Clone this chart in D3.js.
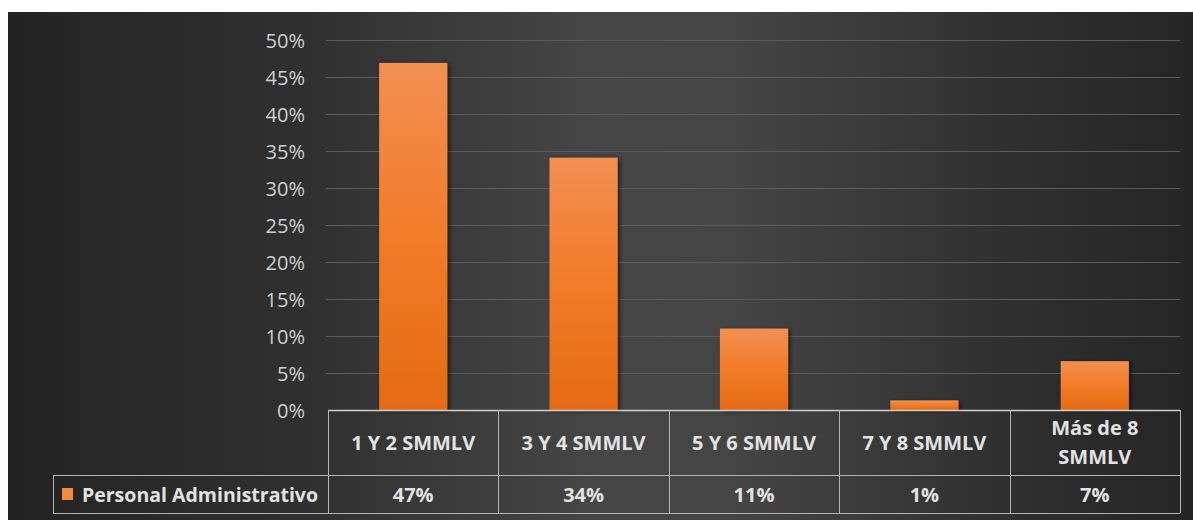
<!DOCTYPE html>
<html>
<head>
<meta charset="utf-8">
<script src="https://cdn.jsdelivr.net/npm/d3@7"></script>
<style>
  html, body { margin: 0; padding: 0; background: #ffffff; }
  svg { display: block; }
  text { font-family: "Open Sans", "Noto Sans", sans-serif; }
</style>
</head>
<body>
<svg id="chart" width="1193" height="520"></svg>
<script>
// ---- data ----
const categories = ["1 Y 2 SMMLV", "3 Y 4 SMMLV", "5 Y 6 SMMLV", "7 Y 8 SMMLV", "Más de 8 SMMLV"];
const categoryLines = [["1 Y 2 SMMLV"], ["3 Y 4 SMMLV"], ["5 Y 6 SMMLV"], ["7 Y 8 SMMLV"], ["Más de 8", "SMMLV"]];
const seriesName = "Personal Administrativo";
const values = [0.469, 0.341, 0.110, 0.013, 0.066];
const yTicks = [0, 0.05, 0.10, 0.15, 0.20, 0.25, 0.30, 0.35, 0.40, 0.45, 0.50];

// ---- layout ----
const W = 1193, H = 520;
const plotLeft = 328, plotRight = 1180, plotTop = 40, plotBottom = 410;
const row1Bottom = 475, row2Bottom = 513, legendLeft = 53;

const svg = d3.select("#chart");
const defs = svg.append("defs");

const bg = defs.append("linearGradient").attr("id", "bg").attr("x1", "0").attr("x2", "1").attr("y1", "0").attr("y2", "0");
bg.append("stop").attr("offset", "0%").attr("stop-color", "#232323");
bg.append("stop").attr("offset", "25%").attr("stop-color", "#303030");
bg.append("stop").attr("offset", "50%").attr("stop-color", "#464646");
bg.append("stop").attr("offset", "62%").attr("stop-color", "#444444");
bg.append("stop").attr("offset", "85%").attr("stop-color", "#2f2f2f");
bg.append("stop").attr("offset", "100%").attr("stop-color", "#252525");

const bar = defs.append("linearGradient").attr("id", "bar").attr("x1", "0").attr("x2", "0").attr("y1", "0").attr("y2", "1");
bar.append("stop").attr("offset", "0%").attr("stop-color", "#F28F52");
bar.append("stop").attr("offset", "45%").attr("stop-color", "#F27D2C");
bar.append("stop").attr("offset", "100%").attr("stop-color", "#E56B12");

const sh = defs.append("filter").attr("id", "shadow").attr("x", "-20%").attr("y", "-20%").attr("width", "150%").attr("height", "150%");
sh.append("feDropShadow").attr("dx", 2).attr("dy", 1).attr("stdDeviation", 2).attr("flood-color", "#000").attr("flood-opacity", 0.6);

svg.append("rect").attr("x", 8).attr("y", 12).attr("width", W - 8).attr("height", H - 12).attr("fill", "url(#bg)");

// ---- scales ----
const x = d3.scaleBand().domain(categories).range([plotLeft, plotRight]).paddingInner(0.6).paddingOuter(0.3);
const xCol = d3.scaleBand().domain(categories).range([plotLeft, plotRight]);
const y = d3.scaleLinear().domain([0, 0.5]).range([plotBottom, plotTop]);

// axis labels
const yAxis = d3.axisLeft(y).tickValues(yTicks).tickFormat(d3.format(".0%")).tickSize(0).tickPadding(0);
const gAxis = svg.append("g").attr("transform", `translate(${plotLeft - 23},0)`).call(yAxis);
gAxis.select(".domain").remove();
gAxis.selectAll("text").attr("fill", "#cfcfcf").attr("font-size", 20).attr("dy", "0.36em")
  .style("font-family", '"Open Sans", sans-serif');

// gridlines
svg.append("g").selectAll("line").data(yTicks.filter(d => d > 0)).join("line")
  .attr("x1", plotLeft - 2).attr("x2", plotRight).attr("y1", d => Math.round(y(d)) + 0.5).attr("y2", d => Math.round(y(d)) + 0.5)
  .attr("stroke", "#5c5c5c").attr("stroke-width", 1);

// bars
svg.append("g").selectAll("rect").data(values).join("rect")
  .attr("x", (d, i) => x(categories[i]))
  .attr("width", x.bandwidth())
  .attr("y", d => y(d))
  .attr("height", d => plotBottom - y(d))
  .attr("fill", "url(#bar)")
  .attr("filter", "url(#shadow)");

// ---- data table ----
const lineColor = "#b4b4b4";
const t = svg.append("g").attr("stroke", lineColor).attr("stroke-width", 1).attr("fill", "none");
t.append("line").attr("x1", plotLeft).attr("x2", plotRight).attr("y1", plotBottom + 0.5).attr("y2", plotBottom + 0.5).attr("stroke", "#d0d0d0").attr("stroke-width", 1.5);
t.append("line").attr("x1", legendLeft).attr("x2", plotRight).attr("y1", row1Bottom + 0.5).attr("y2", row1Bottom + 0.5);
t.append("line").attr("x1", legendLeft).attr("x2", plotRight).attr("y1", row2Bottom + 0.5).attr("y2", row2Bottom + 0.5);
t.append("line").attr("x1", legendLeft + 0.5).attr("x2", legendLeft + 0.5).attr("y1", row1Bottom).attr("y2", row2Bottom);
const colEdges = categories.map(c => xCol(c)).concat([plotRight]);
t.selectAll("line.v").data(colEdges).join("line").attr("class", "v")
  .attr("x1", d => Math.round(d) + 0.5).attr("x2", d => Math.round(d) + 0.5)
  .attr("y1", plotBottom).attr("y2", row2Bottom);

// category headers
const hdr = svg.append("g").attr("fill", "#e2e2e2").attr("font-size", 20).attr("font-weight", "bold").attr("text-anchor", "middle");
categories.forEach((c, i) => {
  const lines = categoryLines[i];
  const cx = xCol(c) + xCol.bandwidth() / 2;
  const mid = (plotBottom + row1Bottom) / 2;
  const lh = 29;
  lines.forEach((ln, k) => {
    hdr.append("text").attr("x", cx).attr("y", mid + (k - (lines.length - 1) / 2) * lh).attr("dy", "0.35em").text(ln);
  });
});

// values row
const fmt = d3.format(".0%");
svg.append("g").selectAll("text").data(values).join("text")
  .attr("x", (d, i) => xCol(categories[i]) + xCol.bandwidth() / 2)
  .attr("y", (row1Bottom + row2Bottom) / 2 + 1)
  .attr("dy", "0.35em")
  .attr("text-anchor", "middle").attr("fill", "#e2e2e2").attr("font-size", 20).attr("font-weight", "bold")
  .text(d => fmt(d));

// legend key
svg.append("rect").attr("x", 62).attr("y", 488).attr("width", 11).attr("height", 12).attr("fill", "#F58A3C");
svg.append("text").attr("x", 82).attr("y", (row1Bottom + row2Bottom) / 2 + 1).attr("dy", "0.35em")
  .attr("fill", "#e2e2e2").attr("font-size", 19.5).attr("font-weight", "bold").text(seriesName);
</script>
</body>
</html>
